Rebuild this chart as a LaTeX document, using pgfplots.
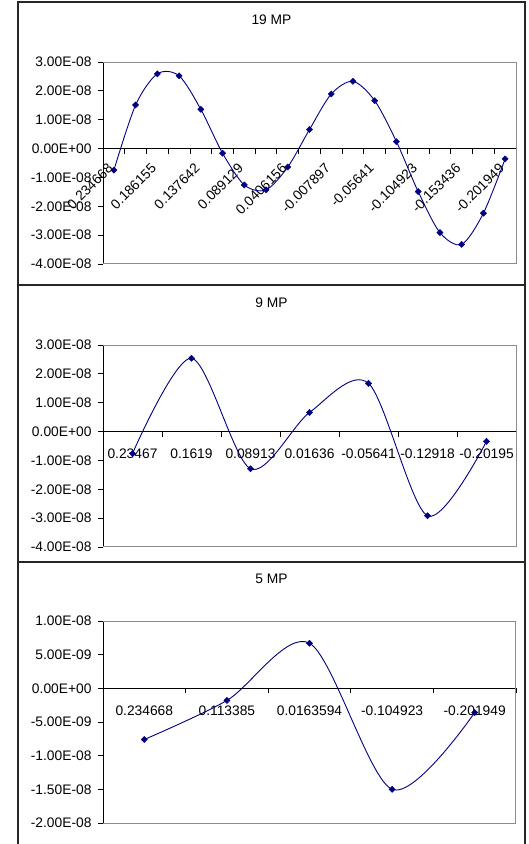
\documentclass[border=0pt]{standalone}
\usepackage{pgfplots}
\pgfplotsset{compat=1.18}
\usepackage{fontspec}
\setmainfont{Liberation Sans}
\definecolor{navy}{RGB}{0,0,128}
\definecolor{boxgray}{RGB}{140,140,140}
\newcommand{\fs}{\fontsize{13.8}{16}\selectfont}
\pgfplotsset{
  excel/.style={
    scale only axis, width=413pt, height=202pt, anchor=north west,
    axis x line=middle, axis y line=left,
    axis line style={black, line width=0.8pt, -},
    tick align=outside, major tick length=5pt,
    tick style={black, line width=0.8pt},
    scaled y ticks=false,
    tick label style={font=\fs},
    yticklabel style={xshift=-3pt},
    xticklabels={},
    extra x tick style={major tick length=0pt},
    clip=false,
  },
  ser/.style={navy, line width=0.9pt, smooth, tension=0.5, mark=square*, mark size=2.2pt,
    mark options={rotate=45, fill=navy, draw=navy, line width=0.4pt}},
}
\begin{document}
\begin{tikzpicture}
\path[use as bounding box] (0pt,0pt) rectangle (529pt,-844pt);
% frames
\draw[line width=2pt, black!85] (18pt,-846pt) -- (18pt,-2pt) -- (525pt,-2pt) -- (525pt,-846pt);
\draw[line width=2pt, black!85] (18pt,-285pt) -- (525pt,-285pt);
\draw[line width=2pt, black!85] (18pt,-562pt) -- (525pt,-562pt);
% titles
\node[font=\fs] at (271.5pt,-20pt) {19 MP};
\node[font=\fs] at (271.5pt,-303pt) {9 MP};
\node[font=\fs] at (271.5pt,-579pt) {5 MP};

% ---------- 19 MP ----------
\begin{axis}[excel, at={(103pt,-62pt)},
  xmin=-0.5, xmax=18.5, ymin=-4e-8, ymax=3e-8,
  xtick={-0.5,0.5,...,18.5},
  extra x ticks={0,2,4,6,8,10,12,14,16,18},
  extra x tick labels={0.234668,0.186155,0.137642,0.089129,0.0406156,-0.007897,-0.05641,-0.104923,-0.153436,-0.201949},
  extra x tick style={xticklabel style={font=\fs, xshift=-7pt, yshift=-9pt, rotate=45, anchor=north east}},
  ytick={-4e-8,-3e-8,-2e-8,-1e-8,0,1e-8,2e-8,3e-8},
  yticklabels={-4.00E-08,-3.00E-08,-2.00E-08,-1.00E-08,0.00E+00,1.00E-08,2.00E-08,3.00E-08},
]
\draw[boxgray, line width=1pt] (rel axis cs:0,0) -- (rel axis cs:1,0) -- (rel axis cs:1,1) -- (rel axis cs:0,1);
\addplot[ser] coordinates {
(0,-7.5e-9) (1,1.51e-8) (2,2.59e-8) (3,2.52e-8) (4,1.36e-8) (5,-1.6e-9)
(6,-1.26e-8) (7,-1.43e-8) (8,-6.4e-9) (9,6.6e-9) (10,1.89e-8) (11,2.33e-8)
(12,1.66e-8) (13,2.4e-9) (14,-1.49e-8) (15,-2.91e-8) (16,-3.32e-8) (17,-2.24e-8) (18,-3.6e-9)};
\end{axis}

% ---------- 9 MP ----------
\begin{axis}[excel, at={(103pt,-345pt)},
  xmin=-0.5, xmax=6.5, ymin=-4e-8, ymax=3e-8,
  xtick={-0.5,0.5,...,6.5},
  extra x ticks={0,1,2,3,4,5,6},
  extra x tick labels={0.23467,0.1619,0.08913,0.01636,-0.05641,-0.12918,-0.20195},
  extra x tick style={xticklabel style={font=\fs, anchor=north, yshift=-14pt}},
  ytick={-4e-8,-3e-8,-2e-8,-1e-8,0,1e-8,2e-8,3e-8},
  yticklabels={-4.00E-08,-3.00E-08,-2.00E-08,-1.00E-08,0.00E+00,1.00E-08,2.00E-08,3.00E-08},
]
\draw[boxgray, line width=1pt] (rel axis cs:0,0) -- (rel axis cs:1,0) -- (rel axis cs:1,1) -- (rel axis cs:0,1);
\addplot[ser] coordinates {
(0,-7.6e-9) (1,2.54e-8) (2,-1.29e-8) (3,6.6e-9) (4,1.67e-8) (5,-2.92e-8) (6,-3.4e-9)};
\end{axis}

% ---------- 5 MP ----------
\begin{axis}[excel, at={(103pt,-621pt)},
  xmin=-0.5, xmax=4.5, ymin=-2e-8, ymax=1e-8,
  xtick={-0.5,0.5,...,4.5},
  extra x ticks={0,1,2,3,4},
  extra x tick labels={0.234668,0.113385,0.0163594,-0.104923,-0.201949},
  extra x tick style={xticklabel style={font=\fs, anchor=north, yshift=-14pt}},
  ytick={-2e-8,-1.5e-8,-1e-8,-5e-9,0,5e-9,1e-8},
  yticklabels={-2.00E-08,-1.50E-08,-1.00E-08,-5.00E-09,0.00E+00,5.00E-09,1.00E-08},
]
\draw[boxgray, line width=1pt] (rel axis cs:0,0) -- (rel axis cs:1,0) -- (rel axis cs:1,1) -- (rel axis cs:0,1);
\addplot[ser] coordinates {
(0,-7.6e-9) (1,-1.8e-9) (2,6.7e-9) (3,-1.5e-8) (4,-3.6e-9)};
\end{axis}
\end{tikzpicture}
\end{document}
